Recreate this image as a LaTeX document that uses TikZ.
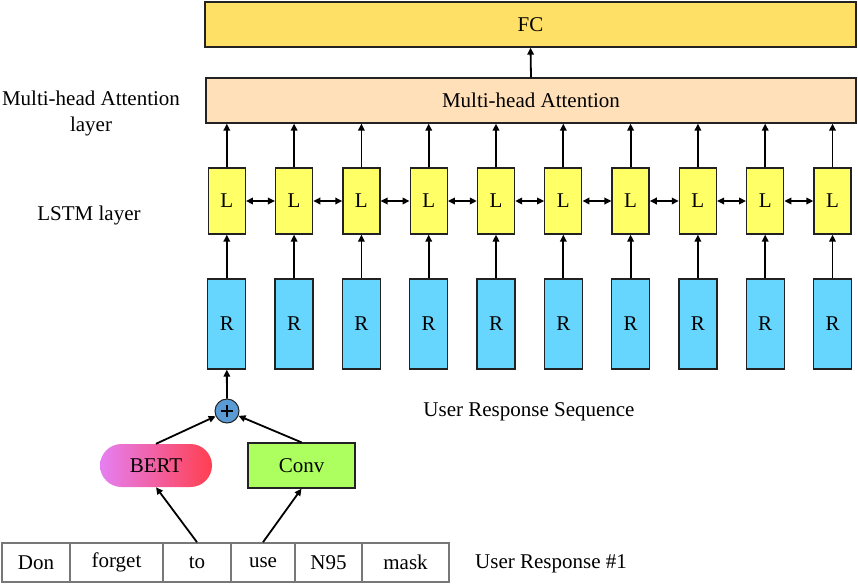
\documentclass[tikz,border=0pt]{standalone}
\usepackage{fontspec}
\setmainfont{Liberation Serif}
\usetikzlibrary{arrows.meta,shapes.misc}
\definecolor{fcfill}{HTML}{FFE066}
\definecolor{attfill}{HTML}{FFE0B8}
\definecolor{lfill}{HTML}{FFFF66}
\definecolor{rfill}{HTML}{66D6FF}
\definecolor{plusfill}{HTML}{5B9BD5}
\definecolor{convfill}{HTML}{ADFF5F}
\definecolor{bertleft}{HTML}{E580F2}
\definecolor{bertright}{HTML}{FF3F50}
\definecolor{edge}{HTML}{222222}
\definecolor{wordedge}{HTML}{777777}
\begin{document}
\begin{tikzpicture}[x=1pt,y=-1pt,
  every node/.style={font=\fontsize{21}{26}\selectfont, inner sep=0pt, text=black},
  box/.style={draw=edge, line width=1.3pt, rectangle, anchor=center},
  lbox/.style={box, fill=lfill, minimum width=37pt, minimum height=66pt},
  rbox/.style={box, fill=rfill, minimum width=38pt, minimum height=90pt},
  wordbox/.style={draw=wordedge, line width=1.6pt, rectangle, minimum height=39pt, anchor=center},
  arr/.style={draw=black, line width=1.8pt, -{Triangle[length=7pt,width=6.5pt]}},
  darr/.style={draw=black, line width=1.8pt, {Triangle[length=7pt,width=6.5pt]}-{Triangle[length=7pt,width=6.5pt]}},
  lab/.style={align=center}
]
\useasboundingbox (0,0) rectangle (858,584);

% FC and attention
\node[box, fill=fcfill, minimum width=651pt, minimum height=45pt] (fc) at (530.5,24.5) {FC};
\node[box, fill=attfill, minimum width=650pt, minimum height=45pt] (att) at (531,100.5) {Multi-head Attention};
\draw[arr] (att.north) -- (fc.south);

% L and R columns
\foreach \i in {0,...,9} {
  \pgfmathsetmacro{\xx}{226.8+67.3*\i}
  \node[lbox] (L\i) at (\xx,201) {L};
  \node[rbox] (R\i) at (\xx,324) {R};
  \draw[arr] (L\i.north) -- (L\i.north |- att.south);
  \draw[arr] (R\i.north) -- (L\i.south);
}
\foreach \i [evaluate=\i as \j using int(\i+1)] in {0,...,8} {
  \draw[darr] (L\i.east) -- (L\j.west);
}

% plus
\node[circle, draw=edge, line width=1pt, fill=plusfill, minimum size=24pt] (plus) at (227,411) {};
\draw[line width=1.3pt] (plus.center) ++(-6,0) -- ++(12,0);
\draw[line width=1.3pt] (plus.center) ++(0,-6) -- ++(0,12);
\draw[arr] (plus.north) -- (R0.south);

% BERT and Conv
\node[rounded rectangle, left color=bertleft, right color=bertright, minimum width=112pt, minimum height=43pt] (bert) at (156,465.5) {BERT};
\node[box, fill=convfill, minimum width=107pt, minimum height=45pt] (conv) at (301.5,465.5) {Conv};
\draw[arr] (bert.north) -- (plus);
\draw[arr] (conv.north) -- (plus);

% words
\node[wordbox, minimum width=68pt] (w1) at (36,562.5) {Don};
\node[wordbox, minimum width=93pt] (w2) at (116.5,562.5) {forget};
\node[wordbox, minimum width=68pt] (w3) at (197,562.5) {to};
\node[wordbox, minimum width=64pt] (w4) at (263,562.5) {use};
\node[wordbox, minimum width=67pt] (w5) at (328.5,562.5) {N95};
\node[wordbox, minimum width=87pt] (w6) at (405.5,562.5) {mask};
\draw[arr] (w3.north) -- (bert.south);
\draw[arr] (w4.north) -- (conv.south);

% labels
\node[lab] (lab1) at (91,113) {Multi-head Attention\\layer};
\node[lab] (lab2) at (89,215) {LSTM layer};
\node[lab] (lab3) at (529,412) {User Response Sequence};
\node[lab] (lab4) at (551,564) {User Response \#1};
\end{tikzpicture}
\end{document}
